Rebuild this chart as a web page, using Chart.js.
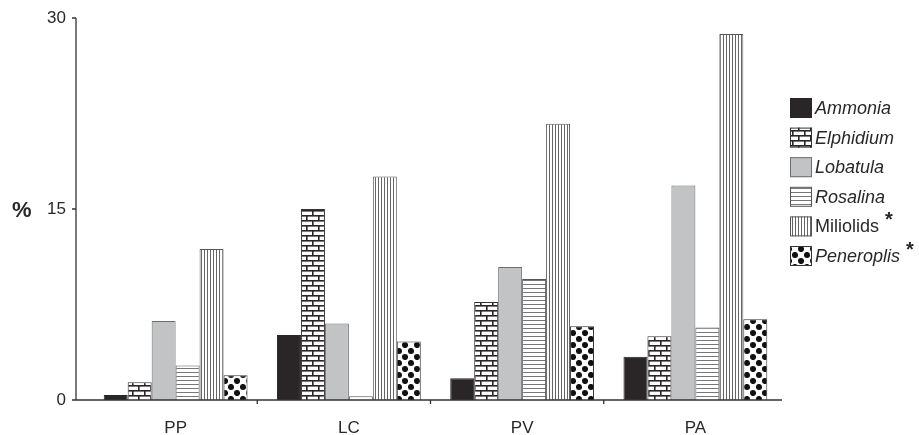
<!DOCTYPE html>
<html>
<head>
<meta charset="utf-8">
<script src="https://cdn.jsdelivr.net/npm/chart.js@4"></script>
<style>
  html, body { margin: 0; padding: 0; background: #fff; }
  #wrap { width: 919px; height: 435px; position: relative; }
</style>
</head>
<body>
<div id="wrap"><canvas id="chart"></canvas></div>
<script>
const sites = ['PP', 'LC', 'PV', 'PA'];
const taxa = ['Ammonia', 'Elphidium', 'Lobatula', 'Rosalina', 'Miliolids', 'Peneroplis'];
const ammonia = [0.4, 5.1, 1.7, 3.4];
const elphidium = [1.4, 15.0, 7.7, 5.0];
const lobatula = [6.2, 6.0, 10.45, 16.85];
const rosalina = [2.7, 0.3, 9.5, 5.7];
const miliolids = [11.85, 17.55, 21.7, 28.75];
const peneroplis = [1.95, 4.6, 5.8, 6.35];
const yTicks = [0, 15, 30];

const FONT = "'Liberation Sans', Arial, sans-serif";
const INK = '#2b2728';

// fill patterns
function tile(w, h, draw) {
  const c = document.createElement('canvas');
  c.width = w; c.height = h;
  const g = c.getContext('2d');
  g.fillStyle = '#fff';
  g.fillRect(0, 0, w, h);
  draw(g);
  return g.createPattern(c, 'repeat');
}
const bricks = tile(12, 10, g => {
  g.fillStyle = '#2a2526';
  g.fillRect(0, 0, 12, 1.6);
  g.fillRect(0, 5, 12, 1.6);
  g.fillRect(0, 0, 1.6, 5);
  g.fillRect(6, 5, 1.6, 5);
});
const hlines = tile(4, 4, g => { g.fillStyle = '#777'; g.fillRect(0, 0, 4, 1); });
const vlines = tile(3, 3, g => { g.fillStyle = '#666'; g.fillRect(0, 0, 1, 3); });
const dots = tile(12, 12, g => {
  g.fillStyle = '#111';
  g.beginPath(); g.arc(3, 3, 3.05, 0, Math.PI * 2); g.fill();
  g.beginPath(); g.arc(9, 9, 3.05, 0, Math.PI * 2); g.fill();
});

const series = [ammonia, elphidium, lobatula, rosalina, miliolids, peneroplis];
const fills = ['#2a2526', bricks, '#c2c3c5', hlines, vlines, dots];
const edges = ['#2a2526', '#333', '#6d6d6d', '#555', '#555', '#333'];
const italic = [true, true, true, true, false, true];
const starred = [false, false, false, false, true, true];

// axis lines sit 13px left of the plot, plus the hand-drawn legend
const axesAndLegend = {
  id: 'axesAndLegend',
  afterDraw(chart) {
    const ctx = chart.ctx;
    const y = chart.scales.y, x = chart.scales.x;
    const ax = chart.chartArea.left - 13;
    const base = y.getPixelForValue(0);
    ctx.save();
    ctx.strokeStyle = '#333';
    ctx.lineWidth = 1.3;
    ctx.beginPath();
    ctx.moveTo(ax, y.getPixelForValue(30));
    ctx.lineTo(ax, base);
    ctx.lineTo(chart.chartArea.right, base);
    yTicks.forEach(v => {
      const py = y.getPixelForValue(v);
      ctx.moveTo(ax - 4, py); ctx.lineTo(ax, py);
    });
    for (let i = 1; i < sites.length; i++) {
      const px = (x.getPixelForValue(i - 1) + x.getPixelForValue(i)) / 2 - 5;
      ctx.moveTo(px, base); ctx.lineTo(px, base + 4);
    }
    ctx.stroke();

    ctx.fillStyle = INK;
    ctx.font = 'bold 22px ' + FONT;
    ctx.textAlign = 'left';
    ctx.textBaseline = 'middle';
    ctx.fillText('%', 12, y.getPixelForValue(15) + 2);

    chart.data.datasets.forEach((ds, i) => {
      const top = 98 + i * 29.6;
      ctx.fillStyle = ds.backgroundColor;
      ctx.fillRect(790, top, 22, 20);
      ctx.strokeStyle = ds.borderColor;
      ctx.lineWidth = 1;
      ctx.strokeRect(790.5, top + 0.5, 21, 19);
      ctx.fillStyle = INK;
      ctx.font = (italic[i] ? 'italic ' : '') + '18px ' + FONT;
      ctx.textBaseline = 'middle';
      ctx.fillText(ds.label, 815, top + 11);
      if (starred[i]) {
        const w = ctx.measureText(ds.label).width;
        ctx.font = 'bold 20px ' + FONT;
        ctx.fillText('*', 815 + w + 6, top + 4);
      }
    });
    ctx.restore();
  }
};

new Chart(document.getElementById('chart'), {
  type: 'bar',
  data: {
    labels: sites,
    datasets: taxa.map((t, i) => ({
      label: t,
      data: series[i],
      backgroundColor: fills[i],
      borderColor: edges[i],
      borderWidth: 1,
      borderSkipped: 'bottom',
      barPercentage: 1,
      categoryPercentage: 0.83
    }))
  },
  options: {
    responsive: true,
    maintainAspectRatio: false,
    animation: false,
    devicePixelRatio: 1,
    layout: { padding: { top: 18, right: 137, bottom: 0, left: 0 } },
    plugins: { legend: { display: false }, tooltip: { enabled: false } },
    scales: {
      x: {
        grid: { display: false, drawTicks: true, tickLength: 18 },
        border: { display: false },
        ticks: { color: INK, font: { family: FONT, size: 17 }, padding: 0 },
        afterFit: s => { s.height = 35; }
      },
      y: {
        min: 0, max: 30,
        grid: { display: false, drawTicks: true, tickLength: 23 },
        border: { display: false },
        afterBuildTicks: s => { s.ticks = yTicks.map(v => ({ value: v })); },
        ticks: { color: INK, font: { family: FONT, size: 17 }, padding: 0 },
        afterFit: s => { s.width = 89; }
      }
    }
  },
  plugins: [axesAndLegend]
});
</script>
</body>
</html>
